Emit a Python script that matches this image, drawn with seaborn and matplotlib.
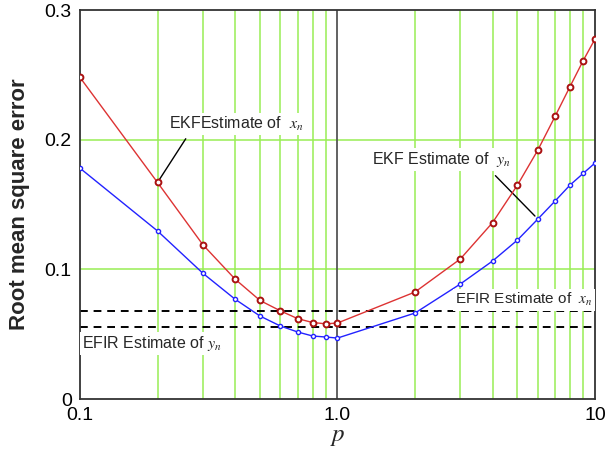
import numpy as np
import pandas as pd
import matplotlib
matplotlib.use("Agg")
import matplotlib.pyplot as plt
import seaborn as sns

# p values on the log axis
p = [0.1, 0.2, 0.3, 0.4, 0.5, 0.6, 0.7, 0.8, 0.9, 1.0,
     2, 3, 4, 5, 6, 7, 8, 9, 10]
# EKF estimate of x_n (red)
ekf_x = [0.248, 0.167, 0.119, 0.0925, 0.076, 0.068, 0.062, 0.059, 0.058, 0.0586,
         0.0825, 0.108, 0.136, 0.165, 0.192, 0.218, 0.241, 0.261, 0.2776]
# EKF estimate of y_n (blue)
ekf_y = [0.178, 0.1296, 0.097, 0.077, 0.064, 0.0563, 0.0517, 0.0486, 0.0478, 0.047,
         0.0663, 0.0887, 0.1064, 0.1226, 0.1388, 0.1527, 0.165, 0.174, 0.182]
# EFIR levels (dashed)
efir_x = 0.0676
efir_y = 0.0553

df = pd.DataFrame({"p": p, "x": ekf_x, "y": ekf_y})

sns.set_style("white")
plt.rcParams["font.family"] = ["Liberation Sans", "DejaVu Sans"]
plt.rcParams["mathtext.fontset"] = "stix"

fig = plt.figure(figsize=(6.07, 4.59), dpi=100)
ax = fig.add_axes([0.1318, 0.1307, 0.8484, 0.8475])

grid_col = "#99EE55"
ax.set_xscale("log")
ax.set_xlim(0.1, 10)
ax.set_ylim(0, 0.3)

# green grid at minor x positions and at 0.1, 0.2
for xv in [0.2, 0.3, 0.4, 0.5, 0.6, 0.7, 0.8, 0.9, 2, 3, 4, 5, 6, 7, 8, 9]:
    ax.axvline(xv, color=grid_col, lw=1.1, zorder=0)
for yv in [0.1, 0.2]:
    ax.axhline(yv, color=grid_col, lw=1.1, zorder=0)
ax.axvline(1.0, color="#555555", lw=1.3, zorder=1)

ax.axhline(efir_x, color="black", lw=1.4, ls=(0, (4, 3)), zorder=2)
ax.axhline(efir_y, color="black", lw=1.4, ls=(0, (4, 3)), zorder=2)

sns.lineplot(data=df, x="p", y="x", ax=ax, color="#DD3333", lw=1.0,
             marker="o", markersize=4.2, markerfacecolor="white",
             markeredgecolor="#AA1111", markeredgewidth=1.4, zorder=4)
sns.lineplot(data=df, x="p", y="y", ax=ax, color="#2222FF", lw=1.0,
             marker="o", markersize=3.0, markerfacecolor="white",
             markeredgecolor="#2222FF", markeredgewidth=1.0, zorder=4)

box = dict(facecolor="white", edgecolor="none", pad=1.5)
ax.annotate(r"EKFEstimate of  $x_n$", xy=(0.2, ekf_x[1]), xytext=(0.222, 0.212),
            fontsize=11.5, va="center", ha="left", bbox=box,
            arrowprops=dict(arrowstyle="-", color="black", lw=1.0,
                            shrinkA=3, shrinkB=3, relpos=(0.15, 0.0)))
ax.annotate(r"EKF Estimate of  $y_n$", xy=(6, ekf_y[14]), xytext=(1.36, 0.185),
            fontsize=11.5, va="center", ha="left", bbox=box,
            arrowprops=dict(arrowstyle="-", color="black", lw=1.0,
                            shrinkA=5, shrinkB=3, relpos=(0.84, 0.0)))
ax.text(9.8, 0.0765, r"EFIR Estimate of  $x_n$", fontsize=11, ha="right",
        va="center", bbox=box, zorder=5)
ax.text(0.102, 0.043, r"EFIR Estimate of $y_n$", fontsize=11.5, ha="left",
        va="center", bbox=box, zorder=5)

ax.set_xticks([0.1, 1, 10])
ax.set_xticklabels(["0.1", "1.0", "10"])
ax.xaxis.set_minor_locator(matplotlib.ticker.NullLocator())
ax.set_yticks([0, 0.1, 0.2, 0.3])
ax.set_yticklabels(["0", "0.1", "0.2", "0.3"])
ax.tick_params(axis="both", length=0, labelsize=14, pad=6, colors="black")

ax.set_xlabel(r"$p$", fontsize=18, labelpad=0)
ax.set_ylabel("Root mean square error", fontsize=16, fontweight="bold", labelpad=10.5)

for s in ax.spines.values():
    s.set_color("#333333")
    s.set_linewidth(1.3)
    s.set_visible(True)

fig.savefig("out.png", dpi=100)
